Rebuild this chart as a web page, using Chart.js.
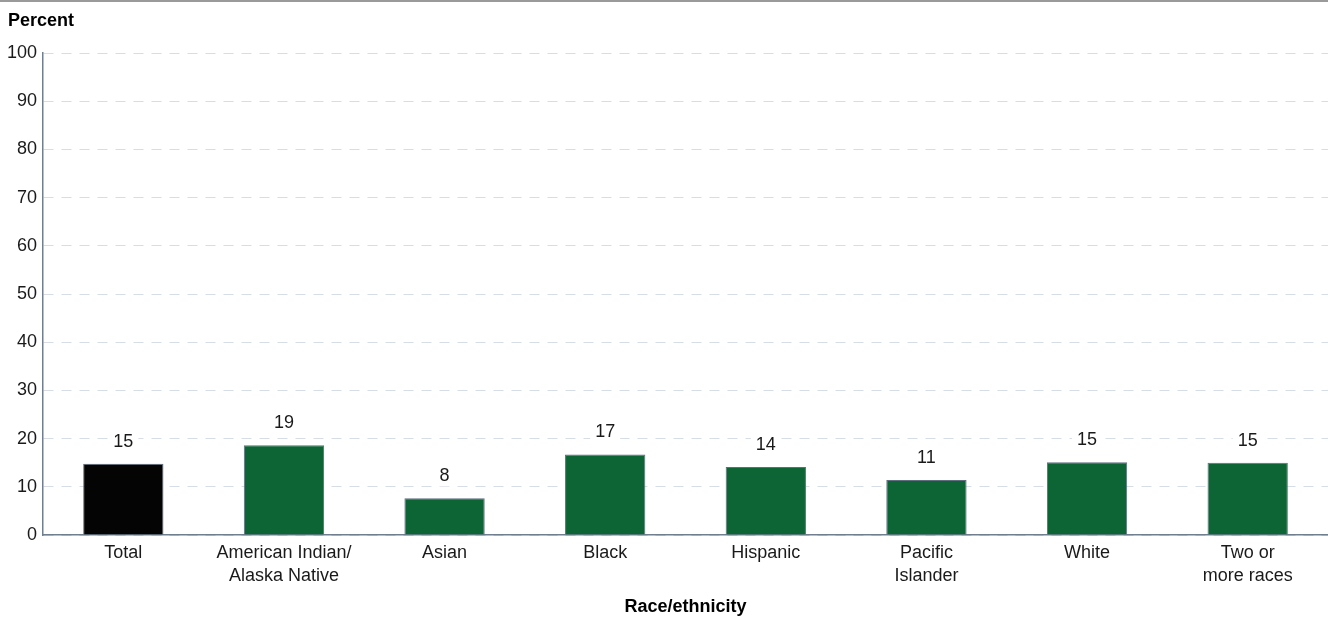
<!DOCTYPE html>
<html>
<head>
<meta charset="utf-8">
<script src="https://cdn.jsdelivr.net/npm/chart.js@4"></script>
<style>
  html, body { margin: 0; padding: 0; background: #fff; }
  #wrap { position: relative; width: 1328px; height: 620px; }
</style>
</head>
<body>
<div id="wrap"><canvas id="raceChart" width="1328" height="620"></canvas></div>
<script>
// data
const categories = ['Total', ['American Indian/', 'Alaska Native'], 'Asian', 'Black', 'Hispanic', ['Pacific', 'Islander'], 'White', ['Two or', 'more races']];
const percents = [14.8, 18.6, 7.6, 16.7, 14.1, 11.4, 15.1, 15.0];
const valueLabels = ['15', '19', '8', '17', '14', '11', '15', '15'];
const yTicks = [0, 10, 20, 30, 40, 50, 60, 70, 80, 90, 100];

const FONT = "'Liberation Sans', Arial, sans-serif";
const AXIS = '#6f7f8f';

const barColors = percents.map((v, i) => i === 0 ? '#040404' : '#0d6536');

// titles, top rule and value labels
const extras = {
    id: 'extras',
    afterDraw(chart) {
        const ctx = chart.ctx;
        const area = chart.chartArea;
        ctx.save();
        ctx.fillStyle = '#9a9a9a';
        ctx.fillRect(0, 0, chart.width, 2);

        ctx.fillStyle = '#000';
        ctx.font = 'bold 18px ' + FONT;
        ctx.textAlign = 'left';
        ctx.textBaseline = 'middle';
        ctx.fillText('Percent', 8, 21);

        ctx.textAlign = 'center';
        ctx.fillText('Race/ethnicity', (area.left + area.right) / 2, 607);

        ctx.font = '18px ' + FONT;
        ctx.textBaseline = 'middle';
        const meta = chart.getDatasetMeta(0);
        meta.data.forEach((bar, i) => {
            const txt = valueLabels[i];
            const w = ctx.measureText(txt).width;
            const y = bar.y - 22;
            ctx.fillStyle = '#fff';
            ctx.fillRect(bar.x - w / 2 - 5, y - 10, w + 10, 20);
            ctx.fillStyle = '#1a1a1a';
            ctx.fillText(txt, bar.x, y);
        });
        ctx.restore();
    }
};

new Chart(document.getElementById('raceChart').getContext('2d'), {
    type: 'bar',
    data: {
        labels: categories,
        datasets: [{
            data: percents,
            backgroundColor: barColors,
            borderColor: '#5e6e7e',
            borderWidth: 1,
            barPercentage: 0.5,
            categoryPercentage: 1.0
        }]
    },
    options: {
        responsive: false,
        animation: false,
        layout: { padding: { top: 53, right: 0, bottom: 0, left: 0 } },
        plugins: {
            legend: { display: false },
            tooltip: { enabled: false }
        },
        scales: {
            x: {
                grid: { display: false, drawTicks: false },
                border: { display: true, color: AXIS, width: 1.5 },
                ticks: {
                    color: '#1a1a1a',
                    font: { family: FONT, size: 18, lineHeight: 1.3 },
                    padding: 6,
                    maxRotation: 0,
                    autoSkip: false
                },
                afterFit(scale) { scale.height = 85; }
            },
            y: {
                min: 0,
                max: 100,
                afterBuildTicks(scale) { scale.ticks = yTicks.map(v => ({ value: v })); },
                grid: {
                    color: '#d6dde4',
                    lineWidth: 1,
                    drawTicks: false
                },
                border: { display: true, color: AXIS, width: 1.5, dash: [10, 8] },
                ticks: {
                    color: '#1a1a1a',
                    font: { family: FONT, size: 18 },
                    padding: 6
                },
                afterFit(scale) { scale.width = 43; }
            }
        }
    },
    plugins: [extras]
});
</script>
</body>
</html>
